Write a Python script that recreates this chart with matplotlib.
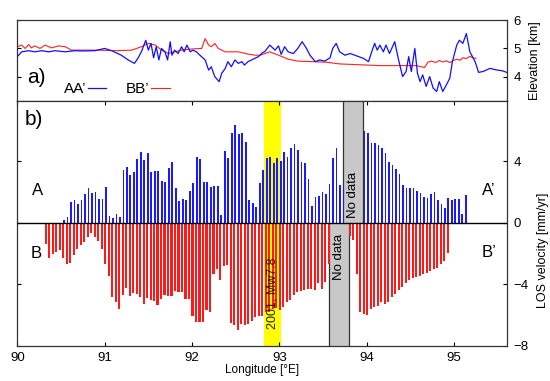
import numpy as np
import matplotlib
matplotlib.use('Agg')
from matplotlib import pyplot as plt

plt.rcParams['font.family'] = ['Liberation Sans', 'DejaVu Sans']

# --- panel a: elevation profiles (lon in deg E, elevation in km) ---
aa_lon = [90.00, 90.05, 90.13, 90.20, 90.28, 90.36, 90.43, 90.55, 90.66, 90.74,
          90.89, 91.00, 91.08, 91.19, 91.27, 91.34, 91.38, 91.42, 91.47, 91.50,
          91.53, 91.56, 91.59, 91.62, 91.65, 91.69, 91.72, 91.75, 91.77, 91.80,
          91.84, 91.88, 91.91, 91.94, 91.98, 92.01, 92.05, 92.09, 92.15, 92.19,
          92.22, 92.26, 92.31, 92.34, 92.38, 92.41, 92.45, 92.49, 92.53, 92.57,
          92.60, 92.64, 92.68, 92.72, 92.76, 92.81, 92.83, 92.89, 92.95, 92.99,
          93.02, 93.06, 93.10, 93.16, 93.21, 93.26, 93.31, 93.35, 93.41, 93.46,
          93.52, 93.58, 93.61, 93.65, 93.69, 93.75, 93.81, 93.88, 93.96, 94.02,
          94.05, 94.09, 94.12, 94.15, 94.19, 94.22, 94.26, 94.32, 94.36, 94.41,
          94.45, 94.48, 94.51, 94.55, 94.58, 94.61, 94.64, 94.68, 94.72, 94.76,
          94.80, 94.83, 94.87, 94.91, 94.95, 94.98, 95.03, 95.06, 95.10, 95.14,
          95.18, 95.24, 95.28, 95.33, 95.41, 95.48, 95.56, 95.60]
aa_elev = [4.71, 4.88, 4.92, 4.88, 4.92, 4.88, 4.92, 4.88, 4.92, 4.91,
           4.92, 5.00, 4.92, 4.76, 4.59, 4.47, 4.65, 4.88, 5.29, 4.94,
           5.18, 4.67, 5.06, 4.59, 5.00, 4.88, 4.59, 5.24, 4.76, 4.94,
           4.82, 5.06, 4.88, 5.12, 4.88, 4.94, 4.88, 4.76, 4.59, 4.23,
           4.35, 4.00, 3.82, 4.12, 4.29, 4.53, 4.35, 4.59, 4.47, 4.53,
           4.41, 4.53, 4.59, 4.65, 4.71, 4.86, 4.88, 5.12, 4.94, 5.09,
           4.79, 5.06, 4.88, 4.82, 5.00, 5.24, 5.00, 4.76, 4.53, 4.59,
           4.55, 4.67, 5.00, 5.18, 4.88, 4.76, 4.82, 4.74, 4.65, 4.53,
           4.82, 5.18, 4.94, 5.12, 4.88, 5.12, 4.82, 5.24, 4.65, 4.00,
           4.18, 4.71, 4.18, 5.00, 4.12, 3.82, 4.06, 3.65, 4.00, 3.59,
           3.47, 3.82, 3.47, 3.70, 3.94, 4.53, 5.12, 5.29, 5.18, 5.53,
           4.88, 4.53, 4.15, 4.18, 4.29, 4.24, 4.20, 4.15]

bb_lon = [90.00, 90.05, 90.09, 90.13, 90.16, 90.20, 90.26, 90.32, 90.39, 90.47,
          90.55, 90.62, 90.74, 90.93, 91.12, 91.31, 91.42, 91.50, 91.58, 91.65,
          91.73, 91.80, 91.88, 91.99, 92.11, 92.15, 92.19, 92.22, 92.26, 92.30,
          92.38, 92.45, 92.53, 92.64, 92.72, 92.78, 92.89, 92.99, 93.10, 93.21,
          93.39, 93.54, 93.69, 93.84, 94.00, 94.15, 94.30, 94.45, 94.57, 94.66,
          94.70, 94.74, 94.79, 94.83, 94.87, 94.91, 94.95, 94.99, 95.03, 95.07,
          95.10, 95.14, 95.18, 95.22, 95.25]
bb_elev = [5.06, 5.12, 5.00, 5.14, 5.02, 5.09, 5.00, 5.12, 5.02, 5.09,
           5.06, 4.94, 4.94, 4.94, 4.92, 4.94, 5.06, 5.18, 5.12, 4.94,
           4.82, 4.88, 4.94, 4.98, 5.00, 5.35, 5.12, 5.06, 5.18, 5.00,
           4.88, 4.88, 4.88, 4.80, 4.76, 4.76, 4.88, 4.76, 4.62, 4.55,
           4.53, 4.51, 4.45, 4.43, 4.41, 4.39, 4.39, 4.39, 4.39, 4.32,
           4.51, 4.55, 4.50, 4.57, 4.52, 4.56, 4.50, 4.57, 4.62, 4.58,
           4.67, 4.64, 4.72, 4.66, 4.65]

# --- panel b: LOS velocity bars (mm/yr), 0.04 deg spacing, NaN = no data ---
bar_step = 0.04
aa_bar_lon0 = 90.534
aa_los = [0.17, 0.39, 1.37, 1.48, 1.26, 1.48, 1.85, 2.24, 1.92, 2.03,
          1.53, 1.55, 2.31, 0.44, 0.35, 0.61, 0.39, 3.44, 3.66, 3.12,
          3.33, 4.16, 4.60, 4.10, 4.53, 3.33, 3.38, 3.38, 2.72, 2.64,
          3.55, 3.94, 2.29, 1.42, 1.55, 1.46, 2.09, 2.57, 4.27, 4.16,
          2.64, 2.64, 2.31, 2.42, 2.42, 0.50, 4.68, 4.25, 5.84, 6.38,
          5.77, 5.82, 5.25, 1.50, 1.29, 1.02, 2.57, 3.44, 4.25, 4.29,
          3.88, 4.20, 4.03, 4.58, 4.31, 4.86, 5.12, 4.75, 3.99, 3.92,
          2.85, 1.09, 1.70, 1.74, 2.03, 1.87, 2.51, 4.25, 4.90, 2.46,
          2.51, np.nan, np.nan, np.nan, np.nan, np.nan,
          6.00, 5.84, 5.20, 5.20, 5.05, 4.85, 4.55, 3.95, 3.78, 3.53,
          3.20, 2.44, 2.25, 2.29, 2.25, 2.09, 1.92, 1.70, 1.62, 1.88,
          1.98, 1.48, 1.25, 0.94, 1.64, 1.48, 1.57, 1.56, 0.57, 1.81]

bb_bar_lon0 = 90.325
bb_los = [-1.35, -2.27, -2.05, -1.90, -1.79, -2.27, -2.66, -2.61, -2.11, -1.68,
          -1.46, -1.24, -0.92, -0.63, -0.92, -1.18, -1.72, -2.66, -3.46, -4.84,
          -5.16, -5.60, -4.70, -4.25, -4.76, -4.56, -4.62, -4.83, -5.27, -4.86,
          -4.99, -5.05, -5.31, -4.94, -4.68, -4.73, -4.77, -4.40, -4.51, -4.51,
          -4.94, -4.94, -6.03, -6.47, -6.43, -6.43, -5.64, -5.81, -3.31, -2.98,
          -3.70, -2.81, -2.72, -6.51, -6.64, -6.97, -6.58, -6.64, -6.60, -6.36,
          -6.14, -6.03, -6.03, -5.82, -5.82, -5.60, -5.55, -5.68, -5.48, -5.13,
          -5.00, -4.70, -4.48, -4.45, -4.35, -4.30, -4.27, -4.35, -3.93, -4.30,
          -3.85, -2.70, np.nan, np.nan, np.nan, np.nan, np.nan,
          -0.85, -1.10, -3.30, -5.80, -5.90, -6.00, -5.60, -5.45, -5.38, -5.16,
          -5.28, -5.15, -4.80, -4.62, -4.38, -4.18, -3.90, -3.72, -3.60, -3.50,
          -3.45, -3.30, -3.25, -3.15, -3.00, -2.90, -2.70, -2.50, -1.95]

# shaded longitude bands
quake_band = (92.82, 93.02)
nodata_aa = (93.73, 93.96)
nodata_bb = (93.57, 93.80)


def style_axis(ax):
    ax.tick_params(direction='in', length=3, width=0.8, labelsize=9.5,
                   left=True, right=True, labelleft=False, labelright=True,
                   pad=5)
    for s in ax.spines.values():
        s.set_linewidth(0.9)
        s.set_color('#333333')


def main():
    fig = plt.figure(figsize=(5.5, 3.81), dpi=100)
    ax_a = fig.add_axes([0.0315, 0.734, 0.8895, 0.2127])
    ax_b = fig.add_axes([0.0315, 0.0919, 0.8895, 0.642], sharex=ax_a)

    # Panel a: elevation
    ax_a.plot(bb_lon, bb_elev, color='#ff2020', lw=0.8, label='BB’')
    ax_a.plot(aa_lon, aa_elev, color='#1010ff', lw=0.9, label='AA’')
    ax_a.set_ylim(3.12, 6.0)
    ax_a.set_yticks([4, 5, 6])
    style_axis(ax_a)
    ax_a.tick_params(axis='x', bottom=False, top=False, labelbottom=False)
    ax_a.yaxis.set_label_position('right')
    ax_a.set_ylabel('Elevation [km]', fontsize=9, labelpad=6)
    ax_a.text(0.02, 0.30, 'a)', fontsize=15, transform=ax_a.transAxes,
              ha='left', va='center')
    h, l = ax_a.get_legend_handles_labels()
    ax_a.legend(h[::-1], l[::-1], loc='center left', bbox_to_anchor=(0.095, 0.15),
                ncol=2, markerfirst=False, frameon=False, fontsize=11,
                handlelength=1.2, handletextpad=0.1, columnspacing=1.3,
                borderpad=0, borderaxespad=0)

    # Panel b: LOS velocity
    aa_x = aa_bar_lon0 + bar_step * np.arange(len(aa_los))
    bb_x = bb_bar_lon0 + bar_step * np.arange(len(bb_los))

    ax_b.axvspan(*quake_band, color='#ffff00', lw=0, zorder=0)
    ax_b.fill_between(nodata_aa, 0, 8, facecolor='#c8c8c8', lw=0, zorder=1)
    ax_b.fill_between(nodata_bb, -8, 0, facecolor='#c8c8c8', lw=0, zorder=1)
    for x0, x1, y0, y1 in [(*nodata_aa, 0, 8), (*nodata_bb, -8, 0)]:
        ax_b.vlines([x0, x1], y0, y1, color='#333333', lw=0.9, zorder=1)

    ax_b.bar(aa_x, aa_los, width=0.02, color='#1a1aff', zorder=2)
    ax_b.bar(bb_x, bb_los, width=0.024, color='#ff1a1a', zorder=2)
    ax_b.axhline(0, color='black', lw=1.0, zorder=3)

    ax_b.set_xlim(90, 95.6)
    ax_b.set_ylim(-8, 7.9)
    ax_b.set_xticks([90, 91, 92, 93, 94, 95])
    ax_b.set_yticks([-8, -4, 0, 4])
    style_axis(ax_b)
    ax_b.tick_params(axis='x', top=True, bottom=True, labelbottom=True, pad=4)
    ax_b.set_xlabel('Longitude [°E]', fontsize=8.5, labelpad=0)
    ax_b.yaxis.set_label_position('right')
    ax_b.set_ylabel('LOS velocity [mm/yr]', fontsize=9, labelpad=6, y=0.39)

    ax_b.text(0.015, 0.925, 'b)', fontsize=15, transform=ax_b.transAxes,
              ha='left', va='center')
    ax_b.text(90.23, 2.1, 'A', fontsize=12, ha='center', va='center')
    ax_b.text(95.4, 2.1, 'A’', fontsize=12, ha='center', va='center')
    ax_b.text(90.22, -2.0, 'B', fontsize=12, ha='center', va='center')
    ax_b.text(95.4, -1.9, 'B’', fontsize=12, ha='center', va='center')
    ax_b.text(np.mean(nodata_aa), 1.8, 'No data', rotation=90, fontsize=9.5,
              ha='center', va='center', zorder=4)
    ax_b.text(np.mean(nodata_bb), -2.2, 'No data', rotation=90, fontsize=9.5,
              ha='center', va='center', zorder=4)
    ax_b.text(np.mean(quake_band), -4.6, '2001, Mw7.8', rotation=90, fontsize=9,
              ha='center', va='center', color='#1a1a1a', zorder=4)

    fig.savefig('out.png', dpi=100)
    plt.close(fig)


if __name__ == '__main__':
    main()
